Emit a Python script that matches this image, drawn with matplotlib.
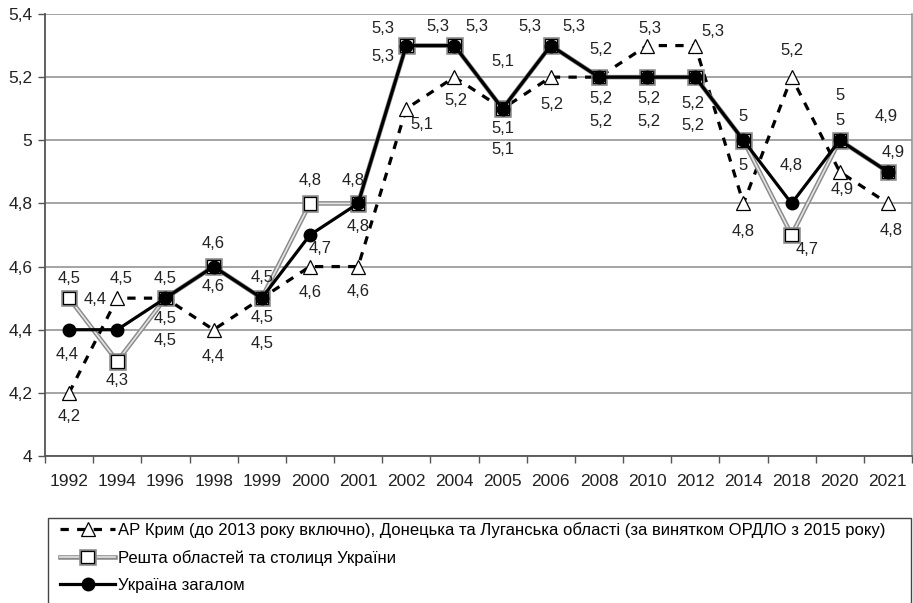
import matplotlib
matplotlib.use("Agg")
import matplotlib.pyplot as plt
import matplotlib.patches as patches
import matplotlib.patheffects as pe
from matplotlib.ticker import FuncFormatter, FixedLocator
import numpy as np

plt.rcParams['font.family'] = ['Liberation Sans', 'DejaVu Sans']

years = ['1992', '1994', '1996', '1998', '1999', '2000', '2001', '2002', '2004',
         '2005', '2006', '2008', '2010', '2012', '2014', '2018', '2020', '2021']
crimea = [4.2, 4.5, 4.5, 4.4, 4.5, 4.6, 4.6, 5.1, 5.2, 5.1, 5.2, 5.2, 5.3, 5.3, 4.8, 5.2, 4.9, 4.8]
rest = [4.5, 4.3, 4.5, 4.6, 4.5, 4.8, 4.8, 5.3, 5.3, 5.1, 5.3, 5.2, 5.2, 5.2, 5.0, 4.7, 5.0, 4.9]
total = [4.4, 4.4, 4.5, 4.6, 4.5, 4.7, 4.8, 5.3, 5.3, 5.1, 5.3, 5.2, 5.2, 5.2, 5.0, 4.8, 5.0, 4.9]

names = ['АР Крим (до 2013 року включно), Донецька та Луганська області (за винятком ОРДЛО з 2015 року)',
         'Решта областей та столиця України',
         'Україна загалом']

# label offsets in pixels (dx, dy up)
off_crimea = [(0, -24), (4, 20), (0, 20), (0, -27), (0, 21), (0, -26), (0, -25), (16, -16), (2, -23),
              (0, 47), (1, -27), (2, 28), (3, 17), (18, 14), (0, -28), (0, 27), (2, -18), (3, -27)]
off_rest = [(0, 20), (0, -19), (0, -20), (0, 23), (0, -19), (0, 23), (-5, 23), (-23, 17), (-17, 19),
            (0, -20), (-21, 19), (2, -21), (2, -21), (-2, -26), (0, 24), (16, -14), (0, 45), (-2, 55)]
off_total = [(-2, -25), (-22, 30), (0, -42), (0, -20), (0, -45), (10, -13), (0, -23), (-23, -11), (22, 19),
             (0, -41), (23, 19), (2, -44), (2, -44), (-2, -48), (0, -25), (0, 38), (0, 20), (5, 19)]


def fmt(v):
    s = ('%.1f' % v).rstrip('0').rstrip('.')
    return s.replace('.', ',')


W, H = 913, 603
fig = plt.figure(figsize=(W / 100, H / 100), dpi=100)
ax = fig.add_axes([45 / W, 1 - 456 / H, (912 - 45) / W, (456 - 14) / H])

x = np.arange(len(years))
ax.plot(x, crimea, color='black', lw=2.3, dashes=(2.6, 2.6), marker='^', ms=10,
        mfc='white', mec='black', mew=0.9, zorder=3, label=names[0])
ax.plot(x, rest, color='#e4e4e4', lw=1.2, marker='s', ms=9, mfc='white', mec='black', mew=0.9,
        path_effects=[pe.Stroke(linewidth=3.3, foreground='#8a8a8a'), pe.Normal()],
        zorder=4, label=names[1])
ax.plot(x, total, color='black', lw=2.3, marker='o', ms=9, mfc='black', mec='black',
        zorder=5, label=names[2])

for vals, offs in [(crimea, off_crimea), (rest, off_rest), (total, off_total)]:
    for i, v in enumerate(vals):
        ax.annotate(fmt(v), (i, v), xytext=offs[i], textcoords='offset pixels',
                    ha='center', va='center', fontsize=12, color='#222222', zorder=6)

ax.set_xlim(-0.5, len(years) - 0.5)
ax.set_ylim(4, 5.4)
ax.set_yticks(np.arange(4, 5.41, 0.2))
ax.yaxis.set_major_formatter(FuncFormatter(lambda v, p: fmt(v)))
ax.grid(axis='y', color='#8c8c8c', lw=1.1)
ax.set_axisbelow(True)

ax.set_xticks(x)
ax.set_xticklabels(years)
ax.xaxis.set_minor_locator(FixedLocator(np.arange(-0.5, len(years), 1)))
ax.tick_params(axis='x', which='major', length=0, pad=13, labelsize=12.5, colors='#222222')
ax.tick_params(axis='x', which='minor', length=5, width=1, color='#555555', direction='out')
ax.tick_params(axis='y', length=5, width=1, color='#555555', labelsize=12.5, labelcolor='#222222', pad=4)

for s in ['left', 'bottom']:
    ax.spines[s].set_color('#555555')
    ax.spines[s].set_linewidth(1.3)
ax.spines['top'].set_visible(False)
ax.spines['right'].set_color('#8c8c8c')
ax.spines['right'].set_linewidth(1.1)

# legend frame (cut off at the bottom like the original)
frame = patches.Rectangle((48 / W, -0.05), (911 - 48) / W, (603 - 518) / H + 0.05,
                          transform=fig.transFigure, fill=False, edgecolor='#444444', lw=1.0)
fig.patches.append(frame)

handles, labels = ax.get_legend_handles_labels()
fig.legend(handles, labels, loc='upper left', bbox_to_anchor=(60 / W, 1 - 522 / H),
           frameon=False, fontsize=12, handlelength=3.3, handletextpad=0.15,
           labelspacing=0.72, borderpad=0, borderaxespad=0)

fig.savefig('out.png', dpi=100)
